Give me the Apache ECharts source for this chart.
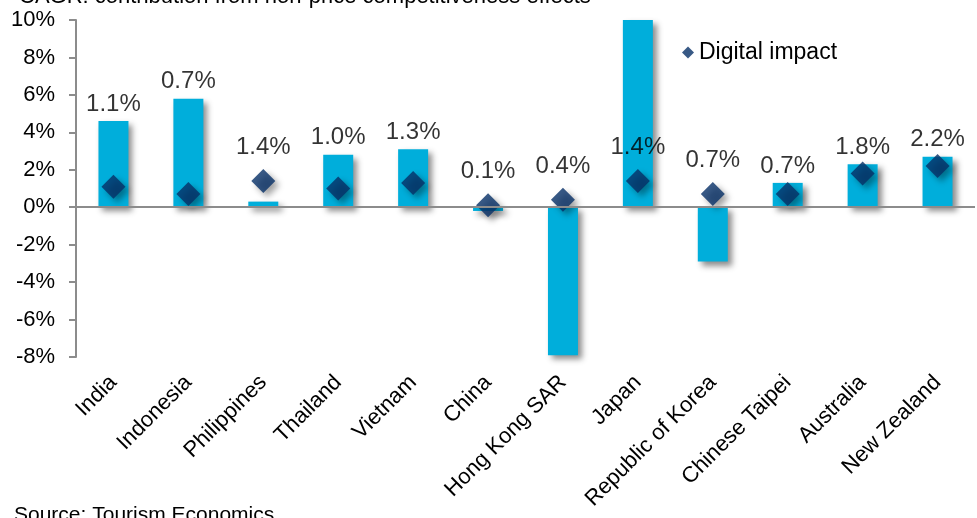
<!DOCTYPE html>
<html>
<head>
<meta charset="utf-8">
<script src="https://cdn.jsdelivr.net/npm/echarts@6/dist/echarts.min.js"></script>
<style>
  html, body { margin: 0; padding: 0; background: #fff; }
  #chart { width: 977px; height: 518px; }
</style>
</head>
<body>
<div id="chart"></div>
<script>
const countries = ['India', 'Indonesia', 'Philippines', 'Thailand', 'Vietnam', 'China',
  'Hong Kong SAR', 'Japan', 'Republic of Korea', 'Chinese Taipei', 'Australia', 'New Zealand'];
// non-price competitiveness contribution (bars), %
const contribution = [4.6, 5.8, 0.3, 2.8, 3.1, -0.2, -7.9, 10.0, -2.9, 1.3, 2.3, 2.7];
// digital impact (diamonds), %
const digital = [1.1, 0.7, 1.4, 1.0, 1.3, 0.1, 0.4, 1.4, 0.7, 0.7, 1.8, 2.2];
const yTicks = [-8, -6, -4, -2, 0, 2, 4, 6, 8, 10];

// label sits above whichever mark is higher (the clipped Japan bar excepted)
const labelAnchor = contribution.map((b, i) =>
  (b > digital[i] && b < 9) ? b : digital[i] + 0.9);

const chart = echarts.init(document.getElementById('chart'));
const font = 'Arial, "Liberation Sans", sans-serif';

chart.setOption({
  animation: false,
  textStyle: { fontFamily: font },
  title: {
    text: 'CAGR: contribution from non-price competitiveness effects',
    left: 14, top: -19,
    textStyle: { fontSize: 22, fontWeight: 'normal', color: '#000', fontFamily: font }
  },
  legend: {
    data: ['Digital impact'],
    left: 677, top: 36,
    itemWidth: 12, itemHeight: 12, itemGap: 5,
    textStyle: { fontSize: 23, color: '#000', fontFamily: font }
  },
  grid: { left: 76, right: 2, top: 20, bottom: 161, containLabel: false },
  xAxis: {
    type: 'category',
    data: countries,
    axisLine: { show: false, onZero: false },
    axisTick: { show: false },
    axisLabel: {
      rotate: 45, margin: 22, fontSize: 22, color: '#000',
      fontFamily: font, interval: 0
    }
  },
  yAxis: {
    type: 'value',
    min: yTicks[0], max: yTicks[yTicks.length - 1], interval: 2,
    splitLine: { show: false },
    axisLine: { show: true, lineStyle: { color: '#8c8c8c', width: 2 } },
    axisTick: { show: true, length: 7, lineStyle: { color: '#8c8c8c', width: 2 } },
    axisLabel: { formatter: '{value}%', fontSize: 22, color: '#000', margin: 21, fontFamily: font }
  },
  series: [
    {
      name: 'Contribution',
      type: 'bar',
      data: contribution,
      barWidth: 30,
      itemStyle: {
        color: '#00AEDB',
        shadowColor: 'rgba(0,0,0,0.45)', shadowBlur: 6, shadowOffsetX: 4, shadowOffsetY: 4
      },
      markLine: {
        silent: true, symbol: 'none', label: { show: false },
        lineStyle: { color: '#8c8c8c', width: 2, type: 'solid' },
        data: [{ yAxis: 0 }]
      },
      z: 2
    },
    {
      name: 'Digital impact',
      type: 'scatter',
      data: digital,
      symbol: 'diamond',
      symbolSize: [24, 24],
      itemStyle: {
        color: '#062F66',
        shadowColor: 'rgba(0,0,0,0.45)', shadowBlur: 6, shadowOffsetX: 4, shadowOffsetY: 4
      },
      z: 4
    },
    {
      name: 'labels',
      type: 'scatter',
      data: labelAnchor,
      symbolSize: 0,
      silent: true,
      label: {
        show: true, position: 'top', distance: 5,
        fontSize: 24, color: '#000', fontFamily: font,
        formatter: p => digital[p.dataIndex].toFixed(1) + '%'
      },
      z: 5
    }
  ],
  graphic: [{
    type: 'text', left: 14, top: 505,
    style: { text: 'Source: Tourism Economics', fill: '#000', font: '21px ' + font }
  }]
});
</script>
</body>
</html>
